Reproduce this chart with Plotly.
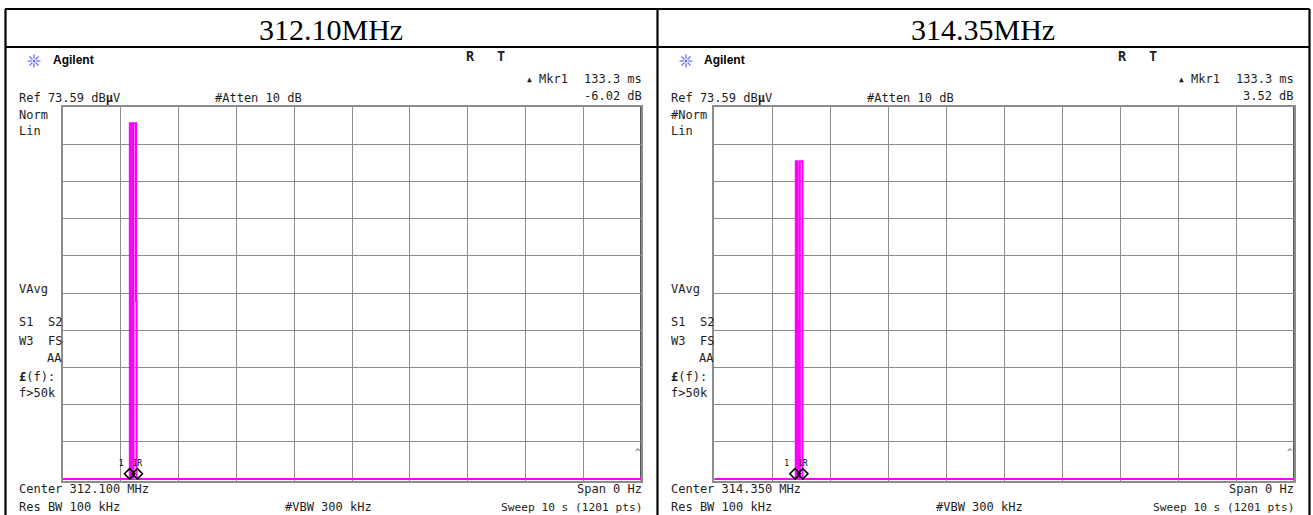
import math
import plotly.graph_objects as go

W, H = 1313, 515
MONO = "DejaVu Sans Mono"
SERIF = "Liberation Serif"
SANS = "Liberation Sans"
MAGENTA = "#ff00ff"
TXT = "#1e1e1e"
GRID = "#8c8c8c"

# ---------------- data ----------------
headers = ["312.10MHz", "314.35MHz"]
center_labels = ["Center 312.100 MHz", "Center 314.350 MHz"]
norm_labels = ["Norm", "#Norm"]
mkr_delta_time = ["133.3 ms", "133.3 ms"]
mkr_delta_level = ["-6.02 dB", "3.52 dB"]

# zero-span trace, time in s (0..10 s sweep), level as fraction of reference level
t_left = [0.0, 1.156, 1.156, 1.168, 1.168, 1.180, 1.180, 1.189, 1.189, 1.201,
          1.201, 1.209, 1.209, 1.220, 1.220, 1.263, 1.263, 1.273, 1.273, 10.0]
v_left = [0, 0, 0.956, 0.956, 0, 0, 0.956, 0.956, 0, 0,
          0.478, 0.478, 0, 0, 0.956, 0.956, 0.478, 0.478, 0, 0]

t_right = [0.0, 1.405, 1.405, 1.417, 1.417, 1.429, 1.429, 1.438, 1.438, 1.453,
           1.453, 1.466, 1.466, 1.476, 1.476, 1.521, 1.521, 10.0]
v_right = [0, 0, 0.854, 0.854, 0, 0, 0.854, 0.854, 0, 0,
           0.424, 0.424, 0, 0, 0.854, 0.854, 0, 0]

mkr_left_s = [1.153, 1.286]
mkr_right_s = [1.393, 1.526]
mkr_labels = ["1", "1R"]

# ---------------- layout helpers ----------------
def X(px):
    return px / W


def Y(py):
    return 1 - py / H


def txt(x, y, s, anchor="left", size=12, family=MONO, color=TXT):
    return dict(x=X(x), y=Y(y), xref="paper", yref="paper", text=s, showarrow=False,
                xanchor=anchor, yanchor="middle", borderpad=0, borderwidth=0,
                font=dict(family=family, size=size, color=color))


fig = go.Figure()

panels = [
    dict(dx=0.0, gx0=63.0, gx1=641.0, t=t_left, v=v_left, mk=mkr_left_s, ax=""),
    dict(dx=652.0, gx0=714.3, gx1=1294.0, t=t_right, v=v_right, mk=mkr_right_s, ax="2"),
]
GY0, GY1 = 107.0, 480.5

annotations = []
shapes = []

for i, p in enumerate(panels):
    xa = "x" + p["ax"]
    ya = "y" + p["ax"]
    fig.add_trace(go.Scatter(x=p["t"], y=p["v"], mode="lines", xaxis=xa, yaxis=ya,
                             line=dict(color=MAGENTA, width=2), hoverinfo="skip"))
    fig.add_trace(go.Scatter(x=p["mk"], y=[0.014, 0.014], mode="markers+text", xaxis=xa, yaxis=ya,
                             marker=dict(symbol="diamond-open", size=8, color="#000",
                                         line=dict(width=1.6, color="#000")),
                             text=mkr_labels, textposition=["top left", "top center"],
                             textfont=dict(family=MONO, size=8, color="#000"),
                             cliponaxis=False, hoverinfo="skip"))
    axcommon = dict(showgrid=True, gridcolor=GRID, gridwidth=1, showticklabels=False,
                    ticks="", zeroline=False, showline=True, mirror=True,
                    linecolor=GRID, linewidth=1.5, layer="below traces", fixedrange=True)
    fig.update_layout(**{
        "xaxis" + p["ax"]: dict(domain=[X(p["gx0"]), X(p["gx1"])], range=[0, 10],
                                dtick=1, tick0=0, anchor=ya, **axcommon),
        "yaxis" + p["ax"]: dict(domain=[Y(GY1), Y(GY0)], range=[-0.004, 1.0],
                                dtick=0.1, tick0=0, anchor=xa, **axcommon),
    })
    # darker right border of the graticule
    shapes.append(dict(type="line", xref=xa, yref="paper", x0=10, x1=10,
                       y0=Y(GY1), y1=Y(GY0), line=dict(color="#555", width=2), layer="below"))

    dx = p["dx"]
    cell_c = [331.0, 983.0][i]
    annotations += [
        txt(cell_c, 29, headers[i], anchor="center", size=30, family=SERIF, color="#000"),
        txt(52.5 + dx, 60.5, "<b>Agilent</b>", size=12, family=SANS, color="#000"),
        txt(470 + dx, 56, "<b>R</b>", anchor="center", size=13.5),
        txt(501 + dx, 56, "<b>T</b>", anchor="center", size=13.5),
        txt(529.5 + dx, 80, "▲", anchor="center", size=8),
        txt(539 + dx, 79, "Mkr1", size=12),
        txt(642 + dx, 79, mkr_delta_time[i], anchor="right", size=12),
        txt(642 + dx, 96, mkr_delta_level[i], anchor="right", size=12),
        txt(19 + dx, 98, "Ref 73.59 dB<b>μ</b>V", size=12),
        txt(215 + dx, 98, "#Atten 10 dB", size=12),
        txt(19 + dx, 115, norm_labels[i], size=12),
        txt(19 + dx, 131, "Lin", size=12),
        txt(19 + dx, 288.5, "VAvg", size=12),
        txt(19 + dx, 322, "S1", size=12),
        txt(61.5 + dx, 322, "S2", anchor="right", size=12),
        txt(19 + dx, 341, "W3", size=12),
        txt(61.5 + dx, 341, "FS", anchor="right", size=12),
        txt(61.5 + dx, 358, "AA", anchor="right", size=12),
        txt(19 + dx, 377, "<b>£</b>(f):", size=12),
        txt(19 + dx, 393, "f>50k", size=12),
        txt(19 + dx, 489, center_labels[i], size=12),
        txt(19 + dx, 507, "Res BW 100 kHz", size=12),
        txt(284.5 + dx, 507, "#VBW 300 kHz", size=12),
        txt(642 + dx, 489, "Span 0 Hz", anchor="right", size=12),
        txt(642 + dx, 507, "Sweep 10 s (1201 pts)", anchor="right", size=11.2),
        txt(641 + dx, 452, "^", anchor="right", size=9, color="#555"),
    ]
    # Agilent spark logo
    cx, cy = 34.0 + dx, 61.0
    for k in range(8):
        a = k * math.pi / 4
        shapes.append(dict(type="line", xref="paper", yref="paper",
                           x0=X(cx + 2.2 * math.cos(a)), y0=Y(cy + 2.2 * math.sin(a)),
                           x1=X(cx + 6.5 * math.cos(a)), y1=Y(cy + 6.5 * math.sin(a)),
                           line=dict(color="#6b6bff", width=1.3)))
    shapes.append(dict(type="circle", xref="paper", yref="paper",
                       x0=X(cx - 1.3), x1=X(cx + 1.3), y0=Y(cy + 1.3), y1=Y(cy - 1.3),
                       fillcolor="#5a5aff", line=dict(width=0)))

# table borders
for (x0, y0, x1, y1) in [(5, 9, 1309.5, 9), (5, 47, 1309.5, 47), (5.5, 9, 5.5, 515),
                         (657.5, 9, 657.5, 515), (1309.5, 9, 1309.5, 515)]:
    shapes.append(dict(type="line", xref="paper", yref="paper", x0=X(x0), y0=Y(y0),
                       x1=X(x1), y1=Y(y1), line=dict(color="#000", width=2.2)))

fig.update_layout(width=W, height=H, margin=dict(l=0, r=0, t=0, b=0),
                  paper_bgcolor="#fff", plot_bgcolor="#fff", showlegend=False,
                  annotations=annotations, shapes=shapes)

fig.write_html("out.html")
